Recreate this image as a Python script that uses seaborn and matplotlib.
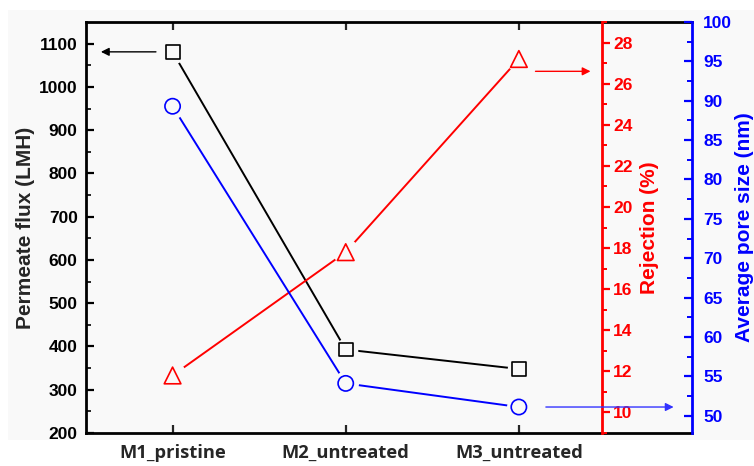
import numpy as np
import pandas as pd
import matplotlib
matplotlib.use("Agg")
import matplotlib.pyplot as plt
from matplotlib.patches import Rectangle
import seaborn as sns

# ---- data ----
categories = ["M1_pristine", "M2_untreated", "M3_untreated"]
flux = [1081, 393, 348]          # Permeate flux (LMH)
rejection = [11.8, 17.8, 27.2]   # Rejection (%)
pore_size = [89.3, 54.1, 51.1]   # Average pore size (nm)

sns.set_style("ticks")
plt.rcParams["font.family"] = ["Liberation Sans", "DejaVu Sans"]
plt.rcParams["font.weight"] = "bold"

BG = "#f9f9f9"
xpos = np.arange(len(categories))
df = pd.DataFrame({"x": xpos, "flux": flux, "rej": rejection, "pore": pore_size})

fig = plt.figure(figsize=(7.54, 4.66), dpi=100)
fig.patch.set_facecolor("white")
fig.patches.append(Rectangle((8 / 754, 26 / 466), 1, (466 - 10 - 26) / 466,
                             transform=fig.transFigure, facecolor=BG,
                             edgecolor="none", zorder=-10))

L, R, B, T = 86 / 754, 692 / 754, 33 / 466, 444 / 466
ax = fig.add_axes([L, B, R - L, T - B])
ax.set_facecolor(BG)
ax2 = ax.twinx()
ax3 = ax.twinx()

def series(a, col, color, marker, ms):
    sns.lineplot(data=df, x="x", y=col, ax=a, color=color, lw=1.4, zorder=2)
    sns.scatterplot(data=df, x="x", y=col, ax=a, color=BG, marker="o",
                    s=(ms + 7) ** 2, linewidth=0, zorder=3)
    sns.scatterplot(data=df, x="x", y=col, ax=a, facecolor="none",
                    edgecolor=color, marker=marker, s=ms ** 2,
                    linewidth=1.2, zorder=4)

series(ax, "flux", "black", "s", 10)
series(ax2, "rej", "red", "^", 12)
series(ax3, "pore", "blue", "o", 11)

# limits
ax.set_xlim(-0.5, 3.0)
ax.set_ylim(200, 1150)
ax2.set_ylim(9, 29)
ax3.set_ylim(47.8, 100)

# x axis
ax.set_xticks(xpos)
ax.set_xticklabels(categories, fontfamily=["Open Sans", "DejaVu Sans"],
                   fontweight="bold", fontsize=13.2)
ax.set_xlabel("")

# left axis
ax.set_yticks(np.arange(200, 1101, 100))
ax.set_yticks(np.arange(250, 1150, 100), minor=True)
ax.tick_params(axis="y", which="major", direction="in", length=6, width=1.6,
               labelsize=12.5, pad=6, colors="black")
ax.tick_params(axis="y", which="minor", direction="in", length=3.5, width=1.4)
ax.tick_params(axis="x", which="major", direction="in", length=6, width=1.6,
               top=True, pad=8)
ax.set_ylabel("Permeate flux (LMH)", fontsize=15, fontweight="bold", labelpad=3)
for s in ["left", "bottom", "top"]:
    ax.spines[s].set_linewidth(2.0)
    ax.spines[s].set_color("black")
ax.spines["right"].set_visible(False)

# red axis
for s in ["left", "bottom", "top"]:
    ax2.spines[s].set_visible(False)
ax2.spines["right"].set_position(("axes", (602 - 86) / (692 - 86)))
ax2.spines["right"].set_color("red")
ax2.spines["right"].set_linewidth(2.0)
ax2.set_yticks(np.arange(10, 29, 2))
ax2.set_yticks(np.arange(9, 29.5, 1), minor=True)
ax2.tick_params(axis="y", which="major", direction="out", length=6, width=1.6,
                colors="red", labelsize=12.5, pad=2)
ax2.tick_params(axis="y", which="minor", direction="out", length=3.5, width=1.4,
                colors="red")
ax2.set_ylabel("Rejection (%)", color="red", fontsize=15, fontweight="bold",
               labelpad=5)
ax2.yaxis.set_label_position("right")

# blue axis
for s in ["left", "bottom", "top"]:
    ax3.spines[s].set_visible(False)
ax3.spines["right"].set_color("blue")
ax3.spines["right"].set_linewidth(2.0)
ax3.set_yticks(np.arange(50, 101, 5))
ax3.set_yticks(np.arange(52.5, 100, 5), minor=True)
ax3.tick_params(axis="y", which="major", direction="in", length=6, width=1.6,
                colors="blue", labelsize=12.5, pad=8)
ax3.tick_params(axis="y", which="minor", direction="in", length=3.5, width=1.4,
                colors="blue")
ax3.set_ylabel("Average pore size (nm)", color="blue", fontsize=15,
               fontweight="bold", labelpad=2)

for a in (ax, ax2, ax3):
    for lab in a.get_yticklabels():
        lab.set_fontweight("bold")

# arrows indicating axes
ax.annotate("", xy=(-0.43, flux[0]), xytext=(-0.08, flux[0]),
            arrowprops=dict(arrowstyle="-|>", color="black", lw=1.0,
                            mutation_scale=12))
ax2.annotate("", xy=(2.43, 26.6), xytext=(2.08, 26.6),
             arrowprops=dict(arrowstyle="-|>", color="red", lw=1.0,
                             mutation_scale=12))
ax3.annotate("", xy=(2.91, pore_size[2]), xytext=(2.14, pore_size[2]),
             arrowprops=dict(arrowstyle="-|>", color="#3333ff", lw=1.0,
                             mutation_scale=12))

fig.savefig("out.png", dpi=100, facecolor=fig.get_facecolor())
